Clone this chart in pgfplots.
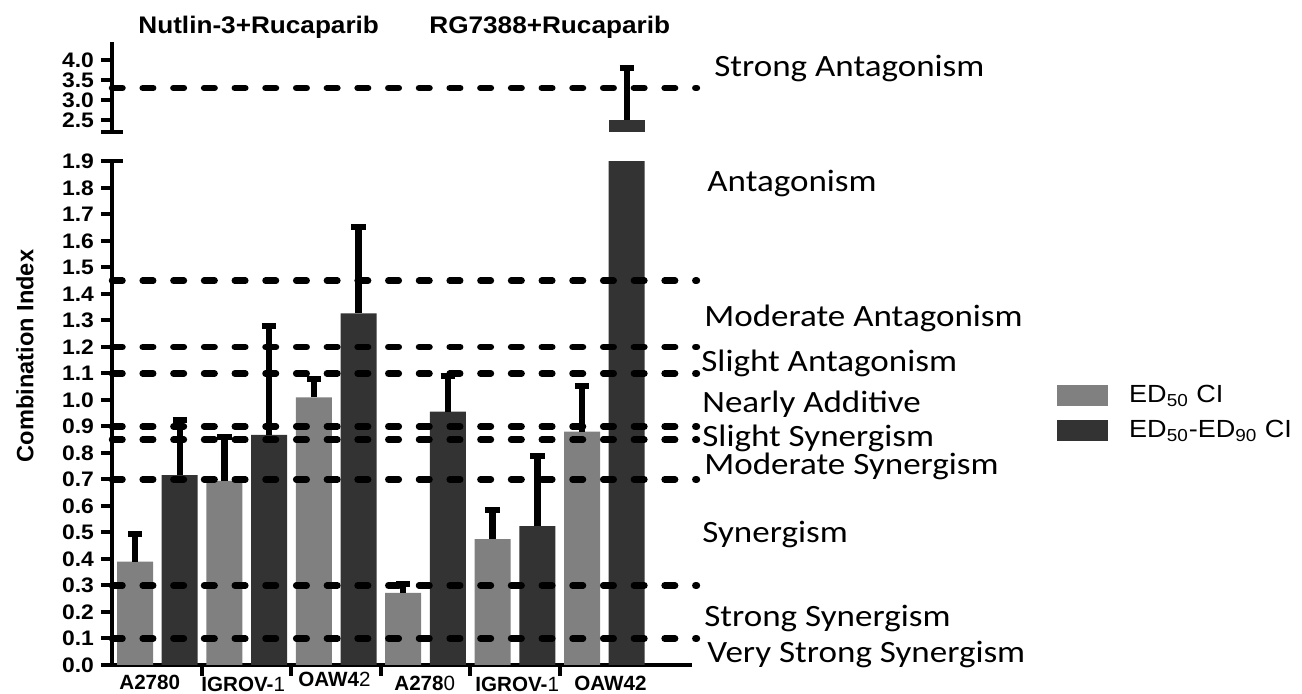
\documentclass[border=0pt]{standalone}
\usepackage{fontspec}
\setmainfont{Liberation Sans}[FakeStretch=1.09]
\newfontfamily\plainsans{Liberation Sans}
\newfontfamily\calib{Carlito}[FakeStretch=1.13]
\usepackage{pgfplots}
\pgfplotsset{compat=1.18}
\definecolor{lightbar}{RGB}{128,128,128}
\definecolor{darkbar}{RGB}{51,51,51}
\tikzset{refline/.style={line width=3.25pt, line cap=round, dash pattern=on 5.25pt off 10.1pt, black}}
\pgfplotsset{
  cistyle/.style={
    scale only axis, width=290pt, xmin=-0.515, xmax=12.46,
    axis y line*=left,
    axis line style={line width=2.2pt, black},
    tick style={line width=2pt, black},
    major tick length=5.5pt, tick align=outside,
    clip mode=individual,
    yticklabel style={font=\fontsize{10.5}{12}\selectfont\bfseries,
      /pgf/number format/.cd, fixed, fixed zerofill, precision=1, assume math mode=true},
  },
  cibar/.style={ybar, bar width=18pt, bar shift=0pt, draw=none,
    error bars/y dir=plus, error bars/y explicit,
    error bars/error mark=|,
    error bars/error bar style={line width=3.2pt, draw=black, line cap=butt},
    error bars/error mark options={draw=black, line width=3pt, mark size=3.6pt}},
}
\begin{document}
\begin{tikzpicture}
\useasboundingbox (0,0) rectangle (651pt,347pt);
% lower panel
\begin{axis}[cistyle, at={(56pt,14.5pt)}, anchor=south west, height=251.75pt,
  ymin=0, ymax=1.9,
  ytick={0,0.1,0.2,0.3,0.4,0.5,0.6,0.7,0.8,0.9,1.0,1.1,1.2,1.3,1.4,1.5,1.6,1.7,1.8,1.9},
  axis x line*=bottom,
  xtick={1.5,3.5,5.5,7.5,9.5}, xticklabels={,,,,},
  legend style={at={(1.6293,0.564)}, anchor=north west, draw=none, fill=none,
    inner sep=0pt, row sep=3.25pt, column sep=8.5pt,
    font=\fontsize{12.4}{14}\selectfont},
  legend cell align=left]
\addplot[cibar, fill=lightbar, forget plot] coordinates {
  (0,0.39) +- (0,0.105)
  (2,0.695) +- (0,0.165)
  (4,1.01) +- (0,0.07)
  (6,0.272) +- (0,0.034)
  (8,0.475) +- (0,0.11)
  (10,0.881) +- (0,0.171)
};
\addplot[cibar, fill=darkbar, forget plot] coordinates {
  (1,0.716) +- (0,0.21)
  (3,0.868) +- (0,0.413)
  (5,1.327) +- (0,0.326)
  (7,0.956) +- (0,0.134)
  (9,0.524) +- (0,0.265)
  (11,2.5) +- (0,1.3)
};
\addlegendimage{legend image code/.code={\fill[lightbar] (0pt,-5pt) rectangle (25pt,5pt);}}
\addlegendentry{ED\textsubscript{50} CI}
\addlegendimage{legend image code/.code={\fill[darkbar] (0pt,-5pt) rectangle (25pt,5pt);}}
\addlegendentry{ED\textsubscript{50}-ED\textsubscript{90} CI}
\pgfplotsinvokeforeach{1.45,1.2,1.1,0.9,0.85,0.7,0.3,0.1}{
  \draw[refline] (axis cs:-0.515,#1) -- (axis cs:12.57,#1);
}
\draw[line width=2pt] (rel axis cs:0,1) -- ++(5.5pt,0pt);
\end{axis}
% upper panel
\begin{axis}[cistyle, at={(56pt,281pt)}, anchor=south west, height=45pt,
  ymin=2.2, ymax=4.45, ytick={2.5,3.0,3.5,4.0},
  axis x line=none]
\addplot[cibar, fill=darkbar] coordinates {(11,2.5) +- (0,1.3)};
\draw[refline] (axis cs:-0.515,3.3) -- (axis cs:12.57,3.3);
\draw[line width=2pt] (rel axis cs:0,0) ++(-5.5pt,0pt) -- ++(11pt,0pt);
\end{axis}
% titles
\node[anchor=base west, inner sep=0pt, font=\bfseries\fontsize{12}{14}\selectfont] at (69pt,330pt) {Nutlin-3+Rucaparib};
\node[anchor=base west, inner sep=0pt, font=\bfseries\fontsize{12}{14}\selectfont] at (214.5pt,330pt) {RG7388+Rucaparib};
% y label
\node[rotate=90, inner sep=0pt, font=\plainsans\bfseries\fontsize{11.8}{14}\selectfont] at (12.5pt,169pt) {Combination Index};
% x labels
\begin{scope}[every node/.style={anchor=base west, inner sep=0pt, font=\plainsans\bfseries\fontsize{10.3}{12}\selectfont}]
\node at (59.5pt,2pt) {A2780};
\node at (100.5pt,1pt) {IGROV-{\mdseries 1}};
\node at (149pt,3.5pt) {OAW4{\mdseries 2}};
\node at (197pt,1.5pt) {A278{\mdseries 0}};
\node at (237.5pt,1pt) {IGROV-{\mdseries 1}};
\node at (287pt,1.5pt) {OAW42};
\end{scope}
% category labels
\begin{scope}[every node/.style={anchor=base west, inner sep=0pt, font=\calib\fontsize{15.5}{18}\selectfont}]
\node at (357pt,308.5pt) {Strong Antagonism};
\node at (353.5pt,251pt) {Antagonism};
\node at (352pt,183.5pt) {Moderate Antagonism};
\node at (350.5pt,161pt) {Slight Antagonism};
\node at (351pt,140.5pt) {Nearly Additive};
\node at (351pt,123.5pt) {Slight Synergism};
\node at (352pt,109.5pt) {Moderate Synergism};
\node at (351pt,75.5pt) {Synergism};
\node at (352pt,33.5pt) {Strong Synergism};
\node at (353.5pt,15.5pt) {Very Strong Synergism};
\end{scope}
\end{tikzpicture}
\end{document}
